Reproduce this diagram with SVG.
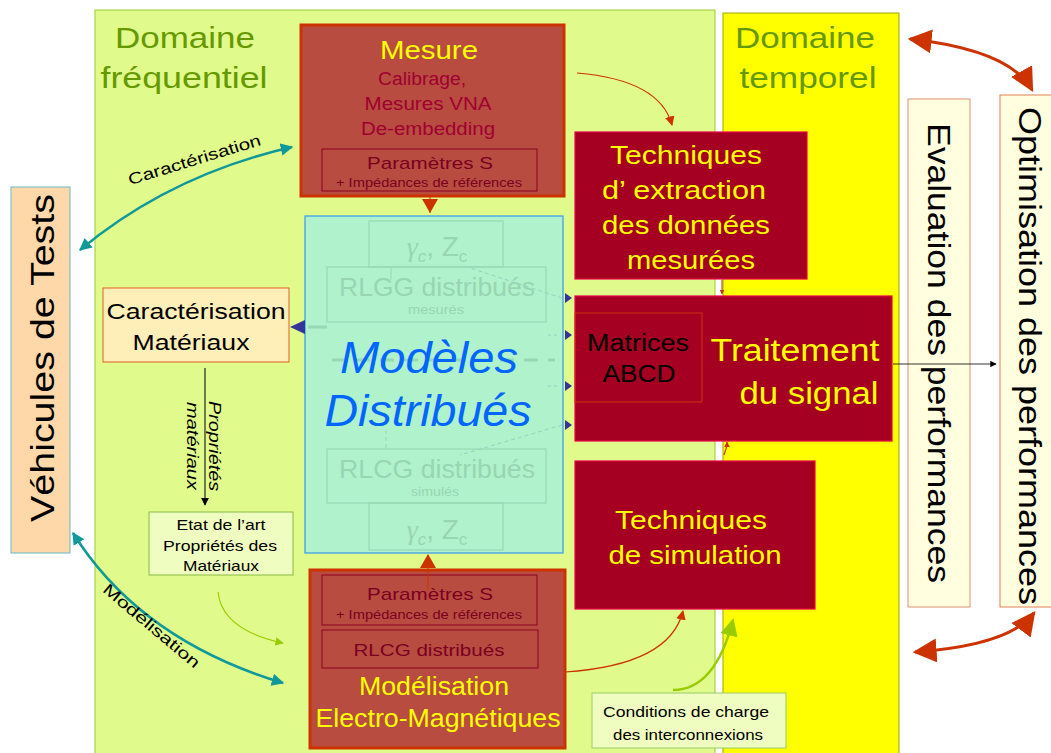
<svg xmlns="http://www.w3.org/2000/svg" width="1051" height="753" viewBox="0 0 1051 753">
<defs>
<style>
text{font-family:"Liberation Sans",Arial,sans-serif;}
.dom{fill:#669900;font-size:30px;text-anchor:middle;}
.yel{fill:#ffff00;text-anchor:middle;}
.dr{fill:#a50021;stroke:#e8004a;stroke-width:1.2;}
.br{fill:#b84c40;stroke:#cc3300;stroke-width:3;}
.inner{fill:none;stroke:#8a0020;stroke-width:1;}
.fade{fill:none;stroke:#98d8b4;stroke-width:1.2;}
.ft{fill:#98d6b2;text-anchor:middle;}
.teal{fill:none;stroke:#119999;stroke-width:2.5;}
.red{fill:none;stroke:#cc3300;stroke-width:1.2;}
.red2{fill:none;stroke:#cc3300;stroke-width:3;}
.bt{fill:#000;text-anchor:middle;}
</style>
<marker id="mt" viewBox="0 0 10 10" refX="9" refY="5" markerWidth="5" markerHeight="5" orient="auto-start-reverse"><path d="M0,0 L10,5 L0,10 z" fill="#119999"/></marker>
<marker id="mr" viewBox="0 0 10 10" refX="9" refY="5" markerWidth="8" markerHeight="8" orient="auto-start-reverse"><path d="M0,0 L10,5 L0,10 z" fill="#cc3300"/></marker>
<marker id="mr2" viewBox="0 0 10 10" refX="9" refY="5" markerWidth="5" markerHeight="5" orient="auto-start-reverse"><path d="M0,0 L10,5 L0,10 z" fill="#cc3300"/></marker>
<marker id="mg" viewBox="0 0 10 10" refX="9" refY="5" markerWidth="7" markerHeight="7" orient="auto"><path d="M0,0 L10,5 L0,10 z" fill="#99cc00"/></marker>
<marker id="mb" viewBox="0 0 10 10" refX="9" refY="5" markerWidth="8" markerHeight="8" orient="auto"><path d="M0,0 L10,5 L0,10 z" fill="#000"/></marker>
</defs>
<rect width="1051" height="753" fill="#fff"/>

<g id="domaine-frequentiel">
<rect x="95" y="10" width="620" height="750" fill="#e0fb8c" stroke="#99cc33" stroke-width="1"/>
<text class="dom" x="185" y="48" textLength="140" lengthAdjust="spacingAndGlyphs">Domaine</text>
<text class="dom" x="184" y="88" textLength="167" lengthAdjust="spacingAndGlyphs">fréquentiel</text>
</g>
<g id="domaine-temporel">
<rect x="723" y="13" width="176" height="750" fill="#ffff00" stroke="#99aa00" stroke-width="1"/>
<text class="dom" x="805" y="48" textLength="140" lengthAdjust="spacingAndGlyphs">Domaine</text>
<text class="dom" x="808" y="88" textLength="137" lengthAdjust="spacingAndGlyphs">temporel</text>
</g>

<g id="vehicules">
<rect x="11" y="187" width="59" height="366" fill="#fed8a8" stroke="#66bbcc" stroke-width="1"/>
<text x="54" y="358" transform="rotate(-90 54 358)" style="font-size:34px;text-anchor:middle" textLength="328" lengthAdjust="spacingAndGlyphs">Véhicules de Tests</text>
</g>

<g id="mesure">
<rect class="br" x="301" y="25" width="263" height="171"/>
<text class="yel" x="429" y="59" style="font-size:25px" textLength="98" lengthAdjust="spacingAndGlyphs">Mesure</text>
<text x="422" y="85" style="font-size:18px;fill:#a00030;text-anchor:middle" textLength="88" lengthAdjust="spacingAndGlyphs">Calibrage,</text>
<text x="428" y="110" style="font-size:18px;fill:#a00030;text-anchor:middle" textLength="127" lengthAdjust="spacingAndGlyphs">Mesures VNA</text>
<text x="428" y="135" style="font-size:18px;fill:#a00030;text-anchor:middle" textLength="134" lengthAdjust="spacingAndGlyphs">De-embedding</text>
<rect class="inner" x="322" y="149" width="215" height="42"/>
<text x="430" y="169" style="font-size:17px;fill:#7a0020;text-anchor:middle" textLength="126" lengthAdjust="spacingAndGlyphs">Paramètres S</text>
<text x="429" y="187" style="font-size:12px;fill:#7a0020;text-anchor:middle" textLength="186" lengthAdjust="spacingAndGlyphs">+ Impédances de références</text>
</g>

<g id="modeles">
<rect x="305" y="216" width="258" height="337" fill="#b0f2cc" stroke="#3399ee" stroke-width="1.2"/>
<rect class="fade" x="369" y="221" width="134" height="46"/>
<text class="ft" x="437" y="256" style="font-size:28px"><tspan font-style="italic" font-family="Liberation Serif">γ</tspan><tspan font-size="17" dy="6" font-style="italic">c</tspan><tspan dy="-6">, Z</tspan><tspan font-size="17" dy="6">c</tspan></text>
<rect class="fade" x="327" y="267" width="219" height="55"/>
<text class="ft" x="437" y="296" style="font-size:26px" textLength="196" lengthAdjust="spacingAndGlyphs">RLGG distribués</text>
<text class="ft" x="436" y="314" style="font-size:12px" textLength="56" lengthAdjust="spacingAndGlyphs">mesurés</text>
<rect class="fade" x="327" y="449" width="219" height="54"/>
<text class="ft" x="437" y="478" style="font-size:26px" textLength="196" lengthAdjust="spacingAndGlyphs">RLCG distribués</text>
<text class="ft" x="435" y="496" style="font-size:12px" textLength="48" lengthAdjust="spacingAndGlyphs">simulés</text>
<rect class="fade" x="369" y="503" width="134" height="47"/>
<text class="ft" x="437" y="539" style="font-size:28px"><tspan font-style="italic" font-family="Liberation Serif">γ</tspan><tspan font-size="17" dy="6" font-style="italic">c</tspan><tspan dy="-6">, Z</tspan><tspan font-size="17" dy="6">c</tspan></text>
<line x1="332" y1="360" x2="555" y2="360" stroke="#98d8b4" stroke-width="3" stroke-dasharray="14,10"/>
<line x1="391" y1="267" x2="391" y2="280" stroke="#98d8b4" stroke-width="1"/>
<line x1="386" y1="430" x2="386" y2="449" stroke="#98d8b4" stroke-width="1" stroke-dasharray="4,3"/>
<path d="M562,298 L470,268" stroke="#98d0c0" stroke-width="1" stroke-dasharray="4,3" fill="none"/>
<path d="M562,425 L460,455" stroke="#98d0c0" stroke-width="1" stroke-dasharray="4,3" fill="none"/>
<line x1="548" y1="335" x2="560" y2="335" stroke="#98d0c0" stroke-width="1" stroke-dasharray="3,3"/>
<line x1="548" y1="386" x2="560" y2="386" stroke="#98d0c0" stroke-width="1" stroke-dasharray="3,3"/>
<line x1="308" y1="327" x2="327" y2="327" stroke="#98d8b4" stroke-width="3"/>
<text x="429" y="373" style="font-size:44px;font-style:italic;fill:#0066ff;text-anchor:middle" textLength="178" lengthAdjust="spacingAndGlyphs">Modèles</text>
<text x="428" y="426" style="font-size:44px;font-style:italic;fill:#0066ff;text-anchor:middle" textLength="207" lengthAdjust="spacingAndGlyphs">Distribués</text>
</g>

<g id="caracterisation-materiaux">
<rect x="103" y="288" width="186" height="74" fill="#feeeb8" stroke="#e06020" stroke-width="1"/>
<text class="bt" x="196" y="319" style="font-size:22px" textLength="179" lengthAdjust="spacingAndGlyphs">Caractérisation</text>
<text class="bt" x="191" y="350" style="font-size:22px" textLength="117" lengthAdjust="spacingAndGlyphs">Matériaux</text>
</g>

<g id="etat-art">
<rect x="149" y="512" width="144" height="63" fill="#f0fdc0" stroke="#88bb44" stroke-width="1"/>
<text class="bt" x="221" y="530" style="font-size:15px" textLength="89" lengthAdjust="spacingAndGlyphs">Etat de l’art</text>
<text class="bt" x="220" y="551" style="font-size:15px" textLength="114" lengthAdjust="spacingAndGlyphs">Propriétés des</text>
<text class="bt" x="221" y="571" style="font-size:15px" textLength="76" lengthAdjust="spacingAndGlyphs">Matériaux</text>
</g>

<g id="extraction">
<rect class="dr" x="575" y="132" width="232" height="147"/>
<text class="yel" x="686" y="164" style="font-size:25px" textLength="152" lengthAdjust="spacingAndGlyphs">Techniques</text>
<text class="yel" x="684" y="199" style="font-size:25px" textLength="164" lengthAdjust="spacingAndGlyphs">d’ extraction</text>
<text class="yel" x="686" y="234" style="font-size:25px" textLength="168" lengthAdjust="spacingAndGlyphs">des données</text>
<text class="yel" x="691" y="269" style="font-size:25px" textLength="128" lengthAdjust="spacingAndGlyphs">mesurées</text>
</g>

<g id="traitement">
<rect class="dr" x="575" y="296" width="317" height="145"/>
<rect x="575" y="313" width="127" height="89" fill="none" stroke="#d03010" stroke-width="1"/>
<text class="bt" x="638" y="351" style="font-size:23px" textLength="102" lengthAdjust="spacingAndGlyphs">Matrices</text>
<text class="bt" x="639" y="382" style="font-size:23px" textLength="73" lengthAdjust="spacingAndGlyphs">ABCD</text>
<text class="yel" x="795" y="361" style="font-size:31px" textLength="169" lengthAdjust="spacingAndGlyphs">Traitement</text>
<text class="yel" x="809" y="404" style="font-size:31px" textLength="139" lengthAdjust="spacingAndGlyphs">du signal</text>
</g>

<g id="simulation">
<rect class="dr" x="575" y="461" width="240" height="148"/>
<text class="yel" x="691" y="529" style="font-size:26px" textLength="152" lengthAdjust="spacingAndGlyphs">Techniques</text>
<text class="yel" x="695" y="564" style="font-size:26px" textLength="173" lengthAdjust="spacingAndGlyphs">de simulation</text>
</g>

<g id="modelisation-em">
<rect class="br" x="310" y="570" width="255" height="178"/>
<rect class="inner" x="322" y="575" width="215" height="50"/>
<text x="430" y="600" style="font-size:17px;fill:#7a0020;text-anchor:middle" textLength="126" lengthAdjust="spacingAndGlyphs">Paramètres S</text>
<text x="429" y="619" style="font-size:12px;fill:#7a0020;text-anchor:middle" textLength="186" lengthAdjust="spacingAndGlyphs">+ Impédances de références</text>
<rect class="inner" x="322" y="630" width="216" height="38"/>
<text x="429" y="656" style="font-size:17px;fill:#7a0020;text-anchor:middle" textLength="151" lengthAdjust="spacingAndGlyphs">RLCG distribués</text>
<text class="yel" x="434" y="695" style="font-size:25px" textLength="150" lengthAdjust="spacingAndGlyphs">Modélisation</text>
<text class="yel" x="438" y="727" style="font-size:25px" textLength="245" lengthAdjust="spacingAndGlyphs">Electro-Magnétiques</text>
</g>

<g id="conditions">
<rect x="592" y="693" width="194" height="55" fill="#f0fdc0" stroke="#99cc66" stroke-width="1"/>
<text class="bt" x="686" y="717" style="font-size:15px" textLength="166" lengthAdjust="spacingAndGlyphs">Conditions de charge</text>
<text class="bt" x="688" y="740" style="font-size:15px" textLength="150" lengthAdjust="spacingAndGlyphs">des interconnexions</text>
</g>

<g id="evaluation">
<rect x="908" y="99" width="62" height="508" fill="#ffffe0" stroke="#e09070" stroke-width="1"/>
<text x="928" y="353" transform="rotate(90 928 353)" style="font-size:31px;text-anchor:middle" textLength="460" lengthAdjust="spacingAndGlyphs">Evaluation des performances</text>
</g>
<g id="optimisation">
<rect x="1000" y="95" width="60" height="512" fill="#ffffe0" stroke="#e08050" stroke-width="1"/>
<text x="1019" y="356" transform="rotate(90 1019 356)" style="font-size:31px;text-anchor:middle" textLength="498" lengthAdjust="spacingAndGlyphs">Optimisation des performances</text>
</g>

<g id="connectors">
<path class="teal" d="M80,250 Q170,175 292,147" marker-start="url(#mt)" marker-end="url(#mt)"/>
<text x="196" y="165" transform="rotate(-17 196 165)" style="font-size:16px;text-anchor:middle" textLength="138" lengthAdjust="spacingAndGlyphs">Caractérisation</text>
<path class="teal" d="M73,533 Q140,640 283,683" marker-start="url(#mt)" marker-end="url(#mt)"/>
<text x="148" y="630" transform="rotate(40 148 630)" style="font-size:16px;text-anchor:middle" textLength="121" lengthAdjust="spacingAndGlyphs">Modélisation</text>
<line x1="205" y1="368" x2="205" y2="505" stroke="#000" stroke-width="1" marker-end="url(#mb)"/>
<text x="209" y="446" transform="rotate(90 209 446)" style="font-size:16px;font-style:italic;text-anchor:middle" textLength="90" lengthAdjust="spacingAndGlyphs">Propriétés</text>
<text x="187" y="446" transform="rotate(90 187 446)" style="font-size:16px;font-style:italic;text-anchor:middle" textLength="88" lengthAdjust="spacingAndGlyphs">matériaux</text>
<path d="M218,592 Q222,630 283,643" fill="none" stroke="#99cc00" stroke-width="1.2" marker-end="url(#mg)"/>
<path d="M673,690 Q715,690 733,620" fill="none" stroke="#99cc00" stroke-width="2.5" marker-end="url(#mg)"/>
<line x1="430" y1="196" x2="430" y2="213" stroke="#cc3300" stroke-width="1"/>
<path d="M422,199 L438,199 L430,213 z" fill="#cc3300"/>
<line x1="428" y1="590" x2="428" y2="555" stroke="#cc3300" stroke-width="1"/>
<path d="M420,568 L436,568 L428,554 z" fill="#cc3300"/>
<path class="red" d="M577,73 Q660,80 672,125" marker-end="url(#mr)"/>
<path class="red" d="M565,672 Q670,665 683,611" marker-end="url(#mr)"/>
<line x1="722" y1="280" x2="722" y2="294" stroke="#cc3300" stroke-width="1" marker-end="url(#mr2)"/>
<path class="red" d="M724,455 Q727,448 727,442" marker-end="url(#mr2)"/>
<path d="M290,327 L305,320 L305,334 z" fill="#333399"/>
<path d="M565,293 L572,298 L565,303 z" fill="#333399"/>
<path d="M565,330 L572,335 L565,340 z" fill="#333399"/>
<path d="M565,381 L572,386 L565,391 z" fill="#333399"/>
<path d="M565,420 L572,425 L565,430 z" fill="#333399"/>
<line x1="893" y1="364" x2="996" y2="364" stroke="#000" stroke-width="0.8" marker-end="url(#mb)"/>
<path class="red2" d="M910,39 Q1010,50 1032,90" marker-start="url(#mr)" marker-end="url(#mr)"/>
<path class="red2" d="M915,652 Q1010,645 1034,613" marker-start="url(#mr)" marker-end="url(#mr)"/>
</g>
</svg>
